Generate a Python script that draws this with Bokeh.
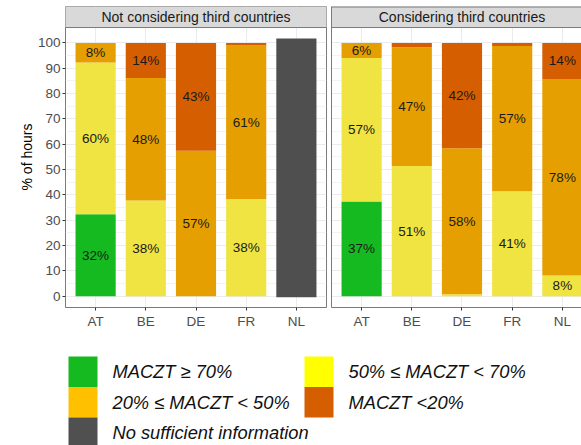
from bokeh.plotting import figure
from bokeh.layouts import column, row
from bokeh.models import ColumnDataSource, FixedTicker, Range1d, Span
from bokeh.core.properties import value
from bokeh.embed import file_html
from bokeh.resources import INLINE

# ---------------- data ----------------
countries = ["AT", "BE", "DE", "FR", "NL"]
panel_titles = ["Not considering third countries", "Considering third countries"]
classes = ["MACZT \u2265 70%", "50% \u2264 MACZT < 70%", "20% \u2264 MACZT < 50%",
           "MACZT <20%", "No sufficient information"]

# Not considering third countries (% of hours)
nc_green = [32.4, 0, 0, 0, 0]
nc_yellow = [59.9, 37.8, 0, 38.4, 0]
nc_orange = [7.7, 48.4, 57.4, 60.6, 0]
nc_dark = [0, 13.8, 42.6, 1.0, 0]
nc_noinfo_low = [0, 0, 0, 0, -0.4]
nc_noinfo_high = [0, 0, 0, 0, 101.8]

# Considering third countries (% of hours)
c_green = [37.4, 0, 0, 0, 0]
c_yellow = [56.7, 51.4, 0.8, 41.4, 8.2]
c_orange = [5.9, 46.9, 57.6, 57.4, 77.6]
c_dark = [0, 1.7, 41.6, 1.2, 14.2]
c_noinfo_low = [0, 0, 0, 0, 0]
c_noinfo_high = [0, 0, 0, 0, 0]

y_ticks = list(range(0, 101, 10))
y_minor = list(range(5, 100, 10))

# ---------------- style ----------------
bar_colors = ["#14BA1F", "#F0E442", "#E69F00", "#D55E00"]
noinfo_color = "#4F4F4F"
legend_colors = ["#14BA1F", "#FFFF00", "#FFC000", "#D55E00", "#505050"]
FONT = "Liberation Sans"
BORDER = "#7A7A7A"
GRID = "#EBEBEB"
MINOR = "#F3F3F3"
Y_START, Y_END = -4.46, 114.4
STRIP_BOTTOM = 106.1
FIG_H = 332


def make_panel(title, green, yellow, orange, dark, nlow, nhigh, x_end, width,
               border_left, show_y):
    xs = list(range(1, len(countries) + 1))
    p = figure(width=width, height=FIG_H, output_backend="svg", toolbar_location=None,
               x_range=Range1d(0.4, x_end), y_range=Range1d(Y_START, Y_END),
               min_border_left=border_left, min_border_right=(2 if show_y else 0),
               min_border_top=6, min_border_bottom=25)
    p.background_fill_color = "white"
    p.border_fill_color = "white"

    # grid
    p.xgrid.ticker = FixedTicker(ticks=xs)
    p.xgrid.grid_line_color = GRID
    p.ygrid.ticker = FixedTicker(ticks=y_ticks, minor_ticks=y_minor)
    p.ygrid.grid_line_color = GRID
    p.ygrid.minor_grid_line_color = MINOR

    # x axis
    p.xaxis.ticker = FixedTicker(ticks=xs)
    p.xaxis.major_label_overrides = {x: c for x, c in zip(xs, countries)}
    p.xaxis.major_label_text_font = FONT
    p.xaxis.major_label_text_font_size = "13.5px"
    p.xaxis.major_label_text_color = "#4D4D4D"
    p.xaxis.major_label_standoff = 3
    p.xaxis.major_tick_out = 3
    p.xaxis.major_tick_in = 0
    p.xaxis.minor_tick_out = 0
    p.xaxis.minor_tick_in = 0
    p.xaxis.major_tick_line_color = "#333333"

    if show_y:
        p.outline_line_color = BORDER
        p.outline_line_width = 1
        p.xaxis.axis_line_color = None
        p.yaxis.axis_line_color = None
        p.yaxis.ticker = FixedTicker(ticks=y_ticks, minor_ticks=y_minor)
        p.yaxis.major_label_text_font = FONT
        p.yaxis.major_label_text_font_size = "13.5px"
        p.yaxis.major_label_text_color = "#4D4D4D"
        p.yaxis.major_label_standoff = 2
        p.yaxis.major_tick_out = 3
        p.yaxis.major_tick_in = 0
        p.yaxis.minor_tick_out = 0
        p.yaxis.minor_tick_in = 0
        p.yaxis.major_tick_line_color = "#333333"
        p.yaxis.axis_label = "% of hours"
        p.yaxis.axis_label_text_font = FONT
        p.yaxis.axis_label_text_font_size = "14px"
        p.yaxis.axis_label_text_font_style = "normal"
        p.yaxis.axis_label_text_color = "#000000"
        p.yaxis.axis_label_standoff = 0
    else:
        p.outline_line_color = None
        p.xaxis.axis_line_color = BORDER
        p.yaxis.ticker = FixedTicker(ticks=[])
        p.yaxis.major_label_text_font_size = "0px"
        p.yaxis.major_tick_out = 0
        p.yaxis.major_tick_in = 0
        p.yaxis.minor_tick_out = 0
        p.yaxis.minor_tick_in = 0
        p.yaxis.major_label_standoff = 0
        p.yaxis.axis_line_color = BORDER
        p.add_layout(Span(location=Y_END, dimension="width", line_color=BORDER,
                          line_width=2))

    # bars
    src = ColumnDataSource(dict(x=xs, green=green, yellow=yellow, orange=orange,
                                dark=dark, nlow=nlow, nhigh=nhigh))
    p.vbar_stack(["green", "yellow", "orange", "dark"], x="x", width=0.8, source=src,
                 fill_color=bar_colors, line_color=None)
    p.vbar(x="x", width=0.8, bottom="nlow", top="nhigh", source=src,
           fill_color=noinfo_color, line_color=None)

    # labels
    lx, ly, lt = [], [], []
    for i, x in enumerate(xs):
        base = 0.0
        for series in (green, yellow, orange, dark):
            v = series[i]
            if v >= 5:
                lx.append(x)
                ly.append(base + v / 2)
                lt.append(f"{round(v)}%")
            base += v
    p.text(x=lx, y=ly, text=lt, text_align="center", text_baseline="middle",
           text_font=value(FONT), text_font_size="13.5px", text_color="#1A1A1A")

    # facet strip
    p.quad(left=[0.0], right=[x_end + 1], bottom=[STRIP_BOTTOM], top=[Y_END + 1],
           fill_color="#D9D9D9", line_color=None)
    p.add_layout(Span(location=STRIP_BOTTOM, dimension="width", line_color=BORDER,
                      line_width=1))
    p.text(x=[3.0], y=[(STRIP_BOTTOM + Y_END) / 2], text=[title], text_align="center",
           text_baseline="middle", text_font=value(FONT), text_font_size="14px",
           text_color="#1A1A1A")
    return p


p1 = make_panel(panel_titles[0], nc_green, nc_yellow, nc_orange, nc_dark,
                nc_noinfo_low, nc_noinfo_high, 5.6, 328, 65, True)
p2 = make_panel(panel_titles[1], c_green, c_yellow, c_orange, c_dark,
                c_noinfo_low, c_noinfo_high, 0.4 + 250 / 50.19, 253, 3, False)

# ---------------- legend ----------------
LW, LH = 581, 113
lg = figure(width=LW, height=LH, output_backend="svg", toolbar_location=None,
            x_range=Range1d(0, LW), y_range=Range1d(LH, 0),
            min_border=0, x_axis_location=None, y_axis_location=None)
lg.outline_line_color = None
lg.grid.visible = False
key_left = [68, 304, 68, 304, 68]
key_top = [24, 24, 54.5, 54.5, 85]
key_w, key_h = 29, 30.5
lg.quad(left=key_left, right=[k + key_w for k in key_left],
        top=key_top, bottom=[t + key_h for t in key_top],
        fill_color=legend_colors, line_color=None)
lg.text(x=[k + 44 for k in key_left], y=[t + key_h / 2 for t in key_top],
        text=classes, text_align="left", text_baseline="middle",
        text_font=value(FONT), text_font_style="italic", text_font_size="18.3px",
        text_color="#111111")

layout = column(row(p1, p2, spacing=0), lg, spacing=0)
open("out.html", "w").write(file_html(layout, INLINE))
